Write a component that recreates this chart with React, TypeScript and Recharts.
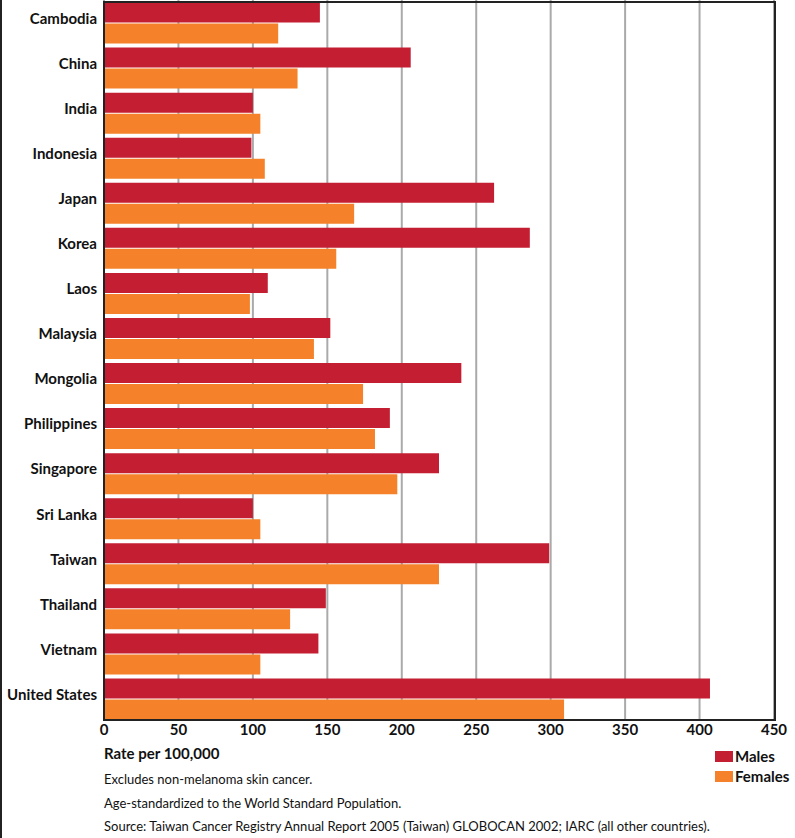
import React from 'react';
import { BarChart, Bar, XAxis, YAxis, CartesianGrid } from 'recharts';

const countries = [
  'Cambodia', 'China', 'India', 'Indonesia', 'Japan', 'Korea', 'Laos', 'Malaysia',
  'Mongolia', 'Philippines', 'Singapore', 'Sri Lanka', 'Taiwan', 'Thailand', 'Vietnam', 'United States',
];
const males = [145, 206, 100, 99, 262, 286, 110, 152, 240, 192, 225, 100, 299, 149, 144, 407];
const females = [117, 130, 105, 108, 168, 156, 98, 141, 174, 182, 197, 105, 225, 125, 105, 309];
const xTicks = [0, 50, 100, 150, 200, 250, 300, 350, 400, 450];
const seriesNames = ['Males', 'Females'];
const seriesColors = ['#c41e32', '#f5822a'];
const notes = [
  'Excludes non-melanoma skin cancer.',
  'Age-standardized to the World Standard Population.',
  'Source: Taiwan Cancer Registry Annual Report 2005 (Taiwan) GLOBOCAN 2002; IARC (all other countries).',
];

const data = countries.map((c, i) => ({ name: c, Males: males[i], Females: females[i] }));

const font = 'Lato, "Open Sans", sans-serif';

export default function App() {
  return (
    <div style={{ position: 'absolute', left: 0, top: 0, width: 795, height: 838, background: '#fff', fontFamily: font, color: '#111' }}>
      <div style={{ position: 'absolute', left: 0, top: 0, width: 2, height: 838, background: '#222' }} />
      <BarChart
        width={795}
        height={745}
        data={data}
        layout="vertical"
        margin={{ top: 0, right: 21, bottom: 0, left: 4 }}
        barCategoryGap={2.5}
        barGap={1}
      >
        <CartesianGrid horizontal={false} stroke="#aaaaaa" strokeWidth={2} />
        <XAxis
          type="number"
          domain={[0, 450]}
          ticks={xTicks}
          height={24}
          axisLine={false}
          tickLine={false}
          tickSize={0}
          tickMargin={3}
          tick={{ fontSize: 15, fontWeight: 700, fill: '#111', fontFamily: font }}
        />
        <YAxis
          type="category"
          dataKey="name"
          width={100}
          axisLine={false}
          tickLine={false}
          tickSize={0}
          tickMargin={7}
          interval={0}
          tick={{ fontSize: 15, fontWeight: 700, fill: '#111', fontFamily: font, dy: -4 }}
        />
        <Bar dataKey="Males" fill={seriesColors[0]} isAnimationActive={false} />
        <Bar dataKey="Females" fill={seriesColors[1]} isAnimationActive={false} />
      </BarChart>
      <div style={{ position: 'absolute', left: 103, top: 1, width: 673, height: 720, border: '2px solid #222', boxSizing: 'border-box' }} />
      <div style={{ position: 'absolute', left: 104, top: 743, fontSize: 15, fontWeight: 700, lineHeight: '20px' }}>
        Rate per 100,000
      </div>
      {notes.map((n, i) => (
        <div key={i} style={{ position: 'absolute', left: 104, top: 771 + i * 23.5, fontSize: 13, lineHeight: '17px', whiteSpace: 'nowrap' }}>
          {n}
        </div>
      ))}
      {seriesNames.map((s, i) => (
        <div key={s} style={{ position: 'absolute', left: 715, top: 747 + i * 20, display: 'flex', alignItems: 'center', fontSize: 15, fontWeight: 700, lineHeight: '18px' }}>
          <span style={{ display: 'inline-block', width: 18, height: 11, background: seriesColors[i], marginRight: 2 }} />
          {s}
        </div>
      ))}
    </div>
  );
}
